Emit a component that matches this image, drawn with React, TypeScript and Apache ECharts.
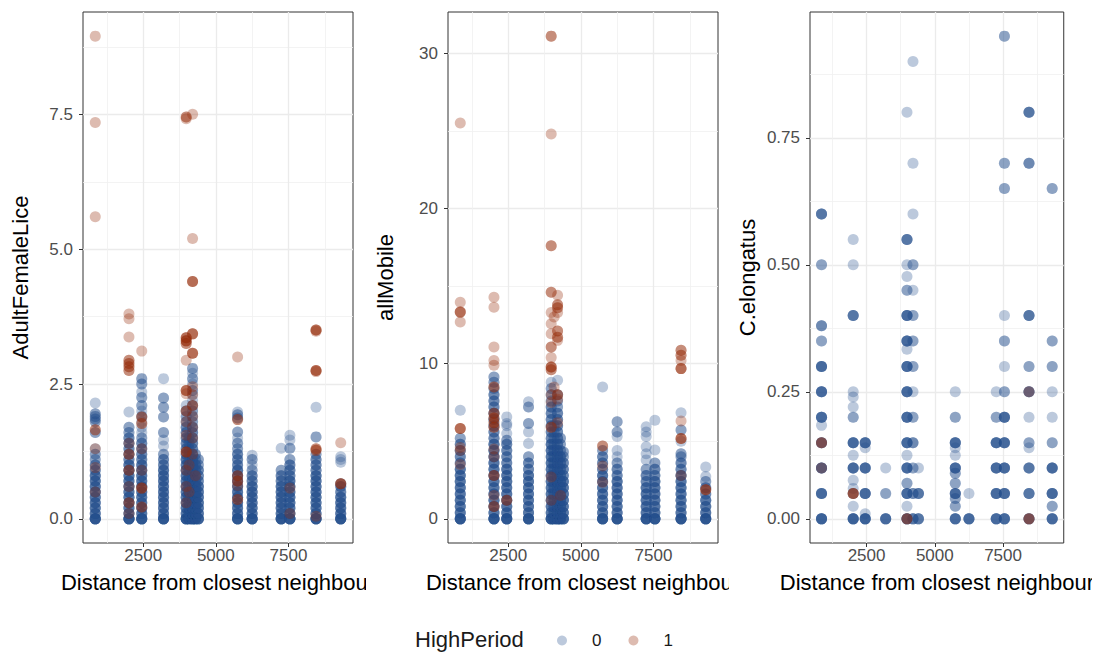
import { useEffect, useRef } from "react";
import * as echarts from "echarts";

// Each column is a list of [value, count] pairs observed at one farm distance.
type Column = [number, number][];

// Distance (m) from the closest neighbouring farm, one entry per site.
const distance = [850, 2010, 2450, 3200, 3980, 4080, 4200, 4300, 4400, 5750, 6250, 7250, 7550, 8450, 9300];

const groups = ["0", "1"];
const panelTitles = ["AdultFemaleLice", "allMobile", "C.elongatus"];
const xTitle = "Distance from closest neighbour";

// AdultFemaleLice, HighPeriod = 0
const femaleLow: Column[] = [
  [[0, 8], [0.1, 4], [0.2, 4], [0.3, 4], [0.4, 4], [0.5, 4], [0.6, 4], [0.7, 4], [0.8, 4], [0.9, 3], [1.0, 3], [1.1, 2], [1.2, 2], [1.3, 1], [1.6, 2], [1.8, 2], [1.85, 2], [1.9, 2], [1.95, 2], [2.15, 1]],
  [[0, 8], [0.1, 4], [0.2, 4], [0.3, 4], [0.4, 4], [0.5, 4], [0.6, 4], [0.7, 4], [0.8, 4], [0.9, 4], [1.0, 4], [1.1, 3], [1.2, 3], [1.3, 3], [1.4, 3], [1.5, 3], [1.6, 2], [1.7, 2], [1.98, 1]],
  [[0, 8], [0.1, 4], [0.2, 4], [0.3, 4], [0.4, 4], [0.5, 4], [0.6, 4], [0.7, 4], [0.8, 4], [0.9, 4], [1.0, 4], [1.1, 3], [1.2, 3], [1.3, 3], [1.4, 3], [1.5, 2], [1.6, 1], [1.7, 1], [1.8, 1], [1.9, 2], [2.0, 1], [2.1, 2], [2.25, 2], [2.35, 1], [2.5, 2], [2.6, 2]],
  [[0, 8], [0.1, 4], [0.2, 4], [0.3, 4], [0.4, 4], [0.5, 4], [0.6, 4], [0.7, 4], [0.8, 4], [0.9, 4], [1.0, 3], [1.1, 3], [1.2, 2], [1.35, 1], [1.46, 1], [1.6, 2], [1.89, 2], [2.07, 2], [2.24, 2], [2.6, 1]],
  [[0, 8], [0.1, 4], [0.2, 4], [0.3, 4], [0.4, 4], [0.5, 4], [0.6, 4], [0.7, 4], [0.8, 4], [0.9, 4], [1.0, 4], [1.1, 4], [1.2, 3], [1.3, 3], [1.4, 3], [1.5, 3], [1.6, 3], [1.7, 3], [1.8, 2], [1.9, 2], [2.0, 2], [2.1, 1]],
  [[0, 6], [0.1, 4], [0.2, 4], [0.3, 4], [0.4, 4], [0.5, 4], [0.6, 4], [0.7, 3], [0.8, 3], [0.9, 3], [1.0, 3], [1.1, 2], [1.2, 2], [1.3, 2], [1.4, 2], [1.5, 2]],
  [[0, 8], [0.1, 4], [0.2, 4], [0.3, 4], [0.4, 4], [0.5, 4], [0.6, 4], [0.7, 4], [0.8, 4], [0.9, 4], [1.0, 4], [1.1, 4], [1.2, 3], [1.3, 3], [1.4, 3], [1.5, 3], [1.6, 3], [1.7, 3], [1.8, 2], [1.9, 2], [2.0, 2], [2.1, 2], [2.2, 1], [2.3, 1], [2.38, 2], [2.5, 1], [2.6, 2], [2.7, 1], [2.79, 2]],
  [[0, 6], [0.1, 4], [0.2, 4], [0.3, 4], [0.4, 4], [0.5, 4], [0.6, 4], [0.7, 3], [0.8, 3], [0.9, 3], [1.0, 3], [1.1, 2], [1.2, 2]],
  [[0, 6], [0.1, 4], [0.2, 4], [0.3, 4], [0.4, 4], [0.5, 4], [0.6, 4], [0.7, 3], [0.8, 3], [0.9, 3], [1.0, 2], [1.1, 2]],
  [[0, 8], [0.1, 4], [0.2, 4], [0.3, 4], [0.4, 4], [0.5, 4], [0.6, 4], [0.7, 4], [0.8, 4], [0.9, 4], [1.0, 3], [1.1, 3], [1.2, 3], [1.3, 2], [1.4, 2], [1.5, 1], [1.61, 2], [1.87, 2], [1.93, 2], [1.98, 1]],
  [[0, 8], [0.1, 4], [0.2, 4], [0.3, 4], [0.4, 4], [0.5, 4], [0.6, 4], [0.7, 3], [0.8, 3], [0.9, 2], [1.0, 1], [1.1, 2], [1.18, 1]],
  [[0, 8], [0.1, 4], [0.2, 4], [0.3, 4], [0.4, 4], [0.5, 4], [0.6, 4], [0.7, 3], [0.8, 3], [0.9, 2], [1.31, 1]],
  [[0, 8], [0.1, 4], [0.2, 4], [0.3, 4], [0.4, 4], [0.5, 4], [0.6, 4], [0.7, 4], [0.8, 3], [0.9, 3], [1.0, 3], [1.1, 2], [1.31, 2], [1.46, 1], [1.55, 1]],
  [[0, 8], [0.1, 4], [0.2, 4], [0.3, 4], [0.4, 4], [0.5, 4], [0.6, 4], [0.7, 4], [0.8, 4], [0.9, 3], [1.0, 3], [1.1, 3], [1.2, 2], [1.52, 2], [2.07, 1]],
  [[0, 8], [0.1, 4], [0.2, 4], [0.3, 4], [0.4, 4], [0.5, 3], [0.6, 3], [0.65, 2], [1.05, 1], [1.1, 1], [1.15, 1]],
];

// AdultFemaleLice, HighPeriod = 1
const femaleHigh: Column[] = [
  [[8.95, 1], [7.35, 1], [5.6, 1], [1.65, 2], [1.3, 1], [0.95, 1], [0.5, 1]],
  [[3.8, 1], [3.71, 1], [3.37, 1], [2.94, 2], [2.88, 2], [2.82, 2], [2.75, 2], [1.4, 1], [1.2, 2], [0.9, 2], [0.6, 1], [0.3, 2], [0.1, 1]],
  [[3.11, 1], [1.89, 2], [1.77, 2], [1.3, 1], [0.9, 1], [0.57, 3], [0.22, 2]],
  [],
  [[7.45, 2], [7.42, 1], [3.36, 3], [3.3, 3], [3.25, 2], [2.94, 1], [2.38, 3], [2.32, 1], [2.0, 2], [1.8, 1], [1.55, 1], [1.24, 3], [0.9, 1], [0.6, 1], [0.3, 1]],
  [[1.0, 1], [0.5, 1]],
  [[7.5, 1], [5.2, 1], [4.4, 3], [3.43, 3], [3.07, 3], [2.45, 1], [2.3, 1], [2.1, 2], [1.9, 1], [1.7, 1], [1.5, 1], [1.2, 1]],
  [[0.8, 1]],
  [],
  [[3.0, 1], [1.84, 2], [0.8, 2], [0.7, 2], [0.62, 1], [0.36, 2]],
  [],
  [],
  [[0.57, 1], [0.1, 1]],
  [[3.5, 3], [3.48, 1], [2.75, 3], [2.73, 1], [1.3, 2], [1.27, 2], [0.05, 1]],
  [[1.41, 1], [0.65, 3]],
];

// allMobile, HighPeriod = 0
const mobileLow: Column[] = [
  [[0, 8], [0.4, 4], [0.8, 4], [1.2, 4], [1.6, 4], [2.0, 4], [2.4, 4], [2.8, 4], [3.2, 4], [3.6, 3], [4.0, 3], [4.4, 3], [4.8, 3], [5.2, 2], [7.0, 1]],
  [[0, 8], [0.4, 4], [0.8, 4], [1.2, 4], [1.6, 4], [2.0, 4], [2.4, 4], [2.8, 4], [3.2, 4], [3.6, 4], [4.0, 4], [4.4, 4], [4.8, 4], [5.2, 3], [5.6, 3], [6.0, 3], [6.4, 3], [6.8, 3], [7.2, 3], [7.6, 3], [8.0, 3], [8.4, 2], [8.8, 2], [9.14, 2]],
  [[0, 8], [0.4, 4], [0.8, 4], [1.2, 4], [1.6, 4], [2.0, 4], [2.4, 4], [2.8, 4], [3.2, 4], [3.6, 3], [4.0, 3], [4.4, 3], [4.8, 3], [5.07, 2], [5.5, 1], [6.0, 1], [6.14, 1], [6.57, 1]],
  [[0, 8], [0.4, 4], [0.8, 4], [1.2, 4], [1.6, 4], [2.0, 4], [2.4, 4], [2.8, 4], [3.2, 3], [3.6, 3], [4.0, 2], [4.86, 1], [5.6, 1], [6.14, 2], [7.2, 2], [7.54, 1]],
  [[0, 8], [0.4, 4], [0.8, 4], [1.2, 4], [1.6, 4], [2.0, 4], [2.4, 4], [2.8, 4], [3.2, 4], [3.6, 4], [4.0, 4], [4.4, 4], [4.8, 4], [5.2, 3], [5.6, 3], [6.0, 3], [6.4, 3], [6.8, 3], [7.2, 3], [7.6, 2], [8.0, 2], [8.4, 2], [8.8, 1]],
  [[0, 6], [0.4, 4], [0.8, 4], [1.2, 4], [1.6, 4], [2.0, 4], [2.4, 4], [2.8, 4], [3.2, 3], [3.6, 3], [4.0, 3], [4.4, 3], [4.8, 2], [5.2, 2], [5.6, 2], [6.0, 2]],
  [[0, 8], [0.4, 4], [0.8, 4], [1.2, 4], [1.6, 4], [2.0, 4], [2.4, 4], [2.8, 4], [3.2, 4], [3.6, 4], [4.0, 4], [4.4, 4], [4.8, 3], [5.2, 3], [5.6, 3], [6.0, 3], [6.4, 3], [6.8, 3], [7.2, 2], [7.6, 2], [8.0, 2], [8.93, 1]],
  [[0, 6], [0.4, 4], [0.8, 4], [1.2, 4], [1.6, 4], [2.0, 4], [2.4, 4], [2.8, 3], [3.2, 3], [3.6, 3], [4.0, 3], [4.4, 2], [4.8, 2], [5.2, 2]],
  [[0, 6], [0.4, 4], [0.8, 4], [1.2, 4], [1.6, 4], [2.0, 4], [2.4, 4], [2.8, 3], [3.2, 3], [3.6, 3], [4.0, 2], [4.3, 2]],
  [[0, 8], [0.4, 4], [0.8, 4], [1.2, 4], [1.6, 4], [2.0, 4], [2.4, 4], [2.8, 4], [3.2, 3], [3.6, 3], [4.0, 3], [4.4, 2], [8.5, 1]],
  [[0, 8], [0.4, 4], [0.8, 4], [1.2, 4], [1.6, 4], [2.0, 4], [2.4, 4], [2.8, 3], [3.2, 3], [3.6, 2], [4.0, 1], [4.4, 1], [5.3, 1], [5.6, 2], [6.25, 2]],
  [[0, 8], [0.4, 4], [0.8, 4], [1.2, 4], [1.6, 4], [2.0, 4], [2.4, 3], [2.8, 3], [3.2, 2], [3.8, 1], [4.2, 1], [4.64, 1], [5.3, 1], [5.6, 1], [5.93, 1]],
  [[0, 8], [0.4, 4], [0.8, 4], [1.2, 4], [1.6, 4], [2.0, 4], [2.4, 4], [2.8, 3], [3.2, 3], [3.6, 2], [4.43, 1], [6.36, 1]],
  [[0, 8], [0.4, 4], [0.8, 4], [1.2, 4], [1.6, 4], [2.0, 4], [2.4, 4], [2.8, 4], [3.2, 3], [3.6, 3], [4.0, 2], [4.2, 2], [5.0, 1], [5.72, 2], [6.83, 1]],
  [[0, 8], [0.4, 4], [0.8, 4], [1.2, 4], [1.6, 3], [2.0, 3], [2.4, 2], [2.73, 1], [3.34, 1]],
];

// allMobile, HighPeriod = 1
const mobileHigh: Column[] = [
  [[25.5, 1], [13.96, 1], [13.32, 3], [12.68, 1], [5.82, 3], [4.6, 1], [4.4, 1], [3.5, 1]],
  [[14.28, 1], [13.64, 1], [11.07, 1], [10.2, 1], [9.9, 1], [8.5, 2], [6.8, 2], [6.5, 2], [6.2, 2], [5.9, 2], [4.5, 1], [4.0, 1], [2.8, 2], [1.5, 1], [0.8, 2]],
  [[1.2, 2]],
  [],
  [[31.1, 2], [24.8, 1], [17.6, 2], [14.6, 2], [13.3, 1], [12.57, 1], [11.93, 1], [11.07, 2], [10.4, 1], [9.78, 3], [9.6, 2], [8.0, 1], [7.5, 1], [5.9, 2], [2.7, 1], [1.2, 1]],
  [[13.0, 1], [8.5, 1]],
  [[14.4, 1], [13.8, 2], [13.6, 2], [13.3, 1], [12.1, 2], [11.7, 2], [11.5, 1], [8.0, 2], [7.7, 1], [6.2, 1]],
  [[1.5, 1]],
  [],
  [[4.7, 2], [3.4, 1], [2.36, 1]],
  [],
  [],
  [],
  [[10.86, 2], [10.54, 2], [10.2, 1], [9.68, 3], [6.3, 1], [5.18, 3], [2.8, 1]],
  [[1.87, 3]],
];

// C.elongatus, HighPeriod = 0
const elongatusLow: Column[] = [
  [[0, 6], [0.05, 5], [0.1, 5], [0.15, 4], [0.184, 1], [0.2, 5], [0.25, 5], [0.3, 5], [0.35, 2], [0.38, 3], [0.5, 2], [0.6, 4]],
  [[0, 6], [0.025, 1], [0.05, 2], [0.06, 1], [0.076, 1], [0.1, 5], [0.125, 1], [0.15, 5], [0.2, 2], [0.22, 1], [0.24, 1], [0.25, 1], [0.4, 4], [0.5, 1], [0.55, 1]],
  [[0, 6], [0.01, 1], [0.05, 5], [0.1, 5], [0.14, 1], [0.15, 5]],
  [[0, 5], [0.05, 2], [0.1, 1]],
  [[0, 5], [0.025, 1], [0.05, 5], [0.07, 2], [0.1, 5], [0.125, 1], [0.15, 5], [0.2, 5], [0.25, 5], [0.3, 5], [0.334, 1], [0.35, 5], [0.4, 5], [0.45, 2], [0.477, 1], [0.5, 1], [0.55, 4], [0.8, 1]],
  [],
  [[0, 4], [0.05, 3], [0.1, 2], [0.15, 3], [0.2, 2], [0.25, 1], [0.3, 2], [0.35, 2], [0.4, 2], [0.45, 1], [0.5, 2], [0.6, 1], [0.7, 1], [0.9, 1]],
  [],
  [[0, 4], [0.05, 4], [0.1, 1]],
  [[0, 5], [0.025, 2], [0.04, 2], [0.05, 5], [0.07, 2], [0.09, 2], [0.1, 5], [0.125, 1], [0.14, 1], [0.15, 5], [0.2, 2], [0.25, 1]],
  [[0, 5], [0.05, 1]],
  [[0, 5], [0.05, 5], [0.1, 5], [0.15, 5], [0.2, 2], [0.25, 1]],
  [[0, 5], [0.05, 5], [0.1, 5], [0.15, 5], [0.2, 5], [0.25, 2], [0.3, 1], [0.35, 2], [0.4, 1], [0.65, 2], [0.7, 2], [0.95, 2]],
  [[0, 4], [0.05, 4], [0.1, 4], [0.14, 1], [0.15, 2], [0.2, 1], [0.25, 4], [0.3, 2], [0.4, 4], [0.7, 3], [0.8, 4]],
  [[0, 5], [0.025, 2], [0.05, 5], [0.1, 5], [0.15, 2], [0.2, 1], [0.25, 1], [0.3, 2], [0.35, 2], [0.65, 2]],
];

// C.elongatus, HighPeriod = 1
const elongatusHigh: Column[] = [
  [[0.1, 1], [0.15, 2]],
  [[0.05, 3]],
  [],
  [],
  [[0, 2]],
  [],
  [],
  [],
  [],
  [],
  [],
  [],
  [],
  [[0, 2], [0.25, 1]],
  [],
];

const panelData: Column[][][] = [
  [femaleLow, femaleHigh],
  [mobileLow, mobileHigh],
  [elongatusLow, elongatusHigh],
];

const xBreaks = [2500, 5000, 7500];
const xMinorBreaks = [1250, 3750, 6250, 8750];
const yBreaks = [[0, 2.5, 5, 7.5], [0, 10, 20, 30], [0, 0.25, 0.5, 0.75]];
const yMinorBreaks = [[1.25, 3.75, 6.25, 8.75], [5, 15, 25], [0.125, 0.375, 0.625, 0.875]];
const yDigits = [1, 0, 2];

const groupColors = ["rgba(35, 78, 140, 0.38)", "rgba(150, 45, 10, 0.4)"];
const FONT = "'Liberation Sans', Arial, Helvetica, sans-serif";

const gridLefts = [83, 448, 810];
const gridWidth = 270;
const gridTop = 12;
const gridHeight = 531;

function toPoints(cols: Column[]): number[][] {
  const pts: number[][] = [];
  cols.forEach((col, i) => {
    col.forEach(([y, n]) => {
      for (let k = 0; k < n; k++) pts.push([distance[i], y]);
    });
  });
  return pts;
}

// ggplot-style 5% expansion of the data range
function expanded(lo: number, hi: number): [number, number] {
  const pad = (hi - lo) * 0.05;
  return [lo - pad, hi + pad];
}

export default function App() {
  const ref = useRef<HTMLDivElement>(null);

  useEffect(() => {
    if (!ref.current) return;
    const chart = echarts.init(ref.current, undefined, { renderer: "svg" });

    const xRange = expanded(Math.min(...distance), Math.max(...distance));

    const grid: any[] = [];
    const xAxis: any[] = [];
    const yAxis: any[] = [];
    const series: any[] = [];

    panelData.forEach((groupsCols, k) => {
      const values = groupsCols.flatMap((cols) => cols.flatMap((c) => c.map(([y]) => y)));
      const yRange = expanded(Math.min(0, ...values), Math.max(...values));

      grid.push({
        left: gridLefts[k],
        top: gridTop,
        width: gridWidth,
        height: gridHeight,
        show: true,
        borderColor: "#333333",
        borderWidth: 1,
        backgroundColor: "transparent",
      });

      // major x axis
      xAxis.push({
        type: "value",
        gridIndex: k,
        min: xRange[0],
        max: xRange[1],
        axisLine: { show: false, onZero: false },
        axisTick: { show: true, length: 4, lineStyle: { color: "#333333", width: 1 }, customValues: xBreaks },
        axisLabel: {
          customValues: xBreaks,
          color: "#4D4D4D",
          fontSize: 17,
          fontFamily: FONT,
          margin: 4,
          formatter: (v: number) => String(v),
        },
        splitLine: { show: true, lineStyle: { color: "#EBEBEB", width: 1.3 } },
        name: xTitle,
        nameLocation: "middle",
        nameGap: 28,
        nameTextStyle: { fontSize: 22, color: "#000000", fontFamily: FONT },
      });
      // minor x grid lines
      xAxis.push({
        type: "value",
        gridIndex: k,
        min: xRange[0],
        max: xRange[1],
        axisLine: { show: false, onZero: false },
        axisTick: { show: false, customValues: xMinorBreaks },
        axisLabel: { show: false },
        splitLine: { show: true, lineStyle: { color: "#F0F0F0", width: 0.8 } },
      });

      // major y axis
      yAxis.push({
        type: "value",
        gridIndex: k,
        min: yRange[0],
        max: yRange[1],
        axisLine: { show: false, onZero: false },
        axisTick: { show: true, length: 4, lineStyle: { color: "#333333", width: 1 }, customValues: yBreaks[k] },
        axisLabel: {
          customValues: yBreaks[k],
          color: "#4D4D4D",
          fontSize: 17,
          fontFamily: FONT,
          margin: 10,
          formatter: (v: number) => v.toFixed(yDigits[k]),
        },
        splitLine: { show: true, lineStyle: { color: "#EBEBEB", width: 1.3 } },
        name: panelTitles[k],
        nameLocation: "middle",
        nameGap: 52,
        nameTextStyle: { fontSize: 22, color: "#000000", fontFamily: FONT },
      });
      // minor y grid lines
      yAxis.push({
        type: "value",
        gridIndex: k,
        min: yRange[0],
        max: yRange[1],
        axisLine: { show: false, onZero: false },
        axisTick: { show: false, customValues: yMinorBreaks[k] },
        axisLabel: { show: false },
        splitLine: { show: true, lineStyle: { color: "#F0F0F0", width: 0.8 } },
      });

      groupsCols.forEach((cols, g) => {
        series.push({
          type: "scatter",
          name: groups[g],
          xAxisIndex: 2 * k,
          yAxisIndex: 2 * k,
          data: toPoints(cols),
          symbol: "circle",
          symbolSize: 11,
          large: false,
          progressive: 0,
          silent: true,
          itemStyle: { color: groupColors[g], borderWidth: 0 },
          emphasis: { disabled: true },
        });
      });
    });

    chart.setOption({
      animation: false,
      backgroundColor: "#ffffff",
      textStyle: { fontFamily: FONT },
      grid,
      xAxis,
      yAxis,
      series,
      legend: {
        data: groups,
        left: 552,
        top: 627,
        orient: "horizontal",
        icon: "circle",
        itemWidth: 10,
        itemHeight: 10,
        itemGap: 27,
        selectedMode: false,
        textStyle: { fontSize: 17, color: "#1A1A1A", fontFamily: FONT, padding: [0, 0, 0, 20] },
      },
      graphic: [
        // panel cells clip the long axis titles
        { type: "rect", z: 100, shape: { x: 366, y: 566, width: 58, height: 36 }, style: { fill: "#ffffff" } },
        { type: "rect", z: 100, shape: { x: 729, y: 566, width: 51, height: 36 }, style: { fill: "#ffffff" } },
        { type: "rect", z: 100, shape: { x: 1092, y: 566, width: 10, height: 36 }, style: { fill: "#ffffff" } },
        {
          type: "text",
          z: 100,
          left: 415,
          top: 628,
          style: { text: "HighPeriod", fontSize: 22, fill: "#1A1A1A", fontFamily: FONT },
        },
      ],
    });

    return () => chart.dispose();
  }, []);

  return (
    <div
      ref={ref}
      style={{ position: "fixed", left: 0, top: 0, width: 1097, height: 653, background: "#ffffff" }}
    />
  );
}
